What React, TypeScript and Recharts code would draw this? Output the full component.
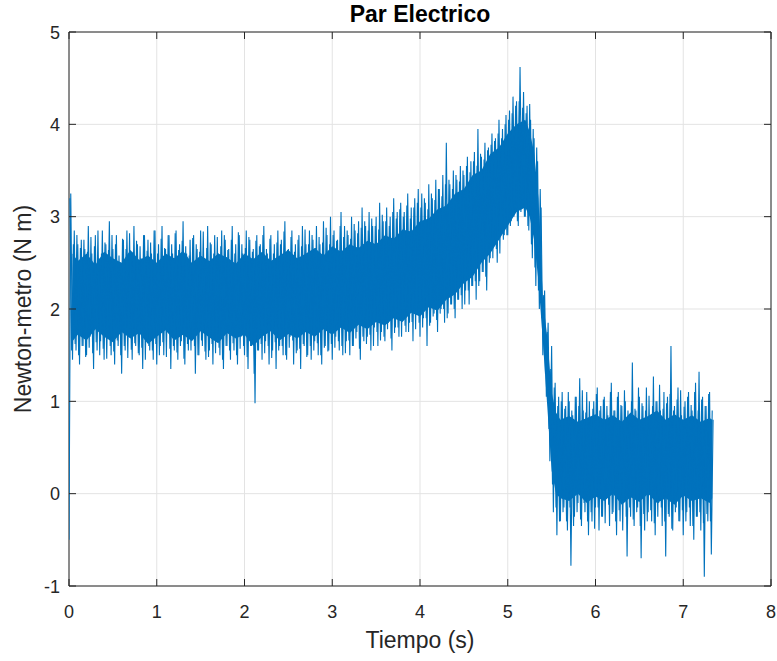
import {
  ComposedChart,
  Line,
  Area,
  XAxis,
  YAxis,
  CartesianGrid,
  ReferenceArea,
} from 'recharts'

// sample spacing of the recorded torque (s); the second trace sits halfway between
const DT = 0.02

const X_TICKS = [0, 1, 2, 3, 4, 5, 6, 7, 8]
const Y_TICKS = [-1, 0, 1, 2, 3, 4, 5]

// electric torque (N m) at t = 0, 0.02, 0.04 ... one row per 0.2 s
const PAR = [
  -0.5, 3.25, 1.45, 2.85, 1.55, 2.7, 1.4, 2.75, 1.6, 2.65,
  1.5, 2.9, 1.7, 2.6, 1.35, 2.8, 1.55, 2.55, 1.65, 2.85,
  1.45, 2.7, 1.75, 2.95, 1.5, 2.65, 1.4, 2.8, 1.6, 2.5,
  1.3, 2.75, 1.55, 2.85, 1.7, 2.6, 1.45, 2.9, 1.6, 2.7,
  1.5, 2.55, 1.35, 2.8, 1.65, 2.75, 1.55, 2.6, 1.45, 2.85,
  1.4, 2.7, 1.6, 2.9, 1.5, 2.65, 1.75, 2.8, 1.35, 2.6,
  1.55, 2.85, 1.45, 2.7, 1.65, 2.95, 1.4, 2.6, 1.55, 2.75,
  1.7, 2.8, 1.3, 2.65, 1.5, 2.85, 1.6, 2.55, 1.45, 2.9,
  1.55, 2.7, 1.4, 2.8, 1.65, 2.6, 1.5, 2.85, 1.35, 2.75,
  1.6, 2.65, 1.45, 2.9, 1.55, 2.7, 1.4, 2.8, 1.7, 2.6,
  1.5, 2.85, 1.35, 2.75, 1.6, 2.65, 0.98, 2.8, 1.55, 2.7,
  1.45, 2.9, 1.65, 2.6, 1.4, 2.8, 1.55, 2.7, 1.35, 2.85,
  1.6, 2.75, 1.5, 2.95, 1.45, 2.65, 1.7, 2.85, 1.4, 2.7,
  1.55, 2.8, 1.35, 2.9, 1.6, 2.7, 1.5, 2.85, 1.45, 2.75,
  1.65, 2.9, 1.5, 2.7, 1.4, 2.95, 1.6, 2.8, 1.55, 3.0,
  1.45, 2.85, 1.7, 2.75, 1.55, 3.05, 1.5, 2.9, 1.65, 2.8,
  1.5, 3.0, 1.6, 2.85, 1.75, 2.95, 1.45, 3.1, 1.65, 2.9,
  1.7, 3.05, 1.55, 2.9, 1.8, 3.0, 1.6, 3.15, 1.75, 2.95,
  1.65, 3.1, 1.85, 3.0, 1.55, 3.2, 1.8, 3.05, 1.7, 3.15,
  1.9, 3.05, 1.75, 3.25, 1.85, 3.1, 1.65, 3.2, 1.95, 3.3,
  1.7, 3.25, 1.9, 3.15, 1.6, 3.35, 1.85, 3.2, 1.95, 3.4,
  1.75, 3.3, 2.0, 3.45, 1.85, 3.8, 1.95, 3.35, 2.05, 3.5,
  1.9, 3.4, 2.1, 3.55, 2.0, 3.45, 2.2, 3.65, 2.05, 3.6,
  2.25, 3.7, 2.1, 3.95, 2.3, 3.65, 2.4, 3.8, 2.2, 3.75,
  2.55, 3.9, 2.75, 3.85, 2.5, 4.05, 2.85, 3.95, 2.8, 4.1,
  2.8, 4.15, 2.95, 4.3, 3.05, 4.25, 2.9, 4.62, 3.1, 4.35,
  3.0, 4.2, 2.85, 4.05, 2.55, 3.85, 2.25, 3.6, 2.0, 3.1,
  1.5, 2.2, 1.05, 1.85, 0.35, 1.6, -0.2, 1.2, -0.45, 1.05,
  -0.3, 1.1, -0.15, 0.95, -0.4, 1.0, -0.78, 0.85, -0.25, 1.05,
  -0.1, 1.25, -0.35, 0.9, -0.2, 1.1, -0.45, 0.8, -0.3, 1.0,
  -0.15, 1.15, -0.4, 0.95, -0.25, 1.05, -0.05, 0.85, -0.35, 1.2,
  -0.2, 0.9, -0.45, 1.1, -0.3, 0.95, -0.1, 1.0, -0.68, 0.85,
  -0.25, 1.42, -0.35, 0.9, -0.15, 1.05, -0.7, 0.95, -0.4, 1.15,
  -0.2, 0.85, -0.3, 1.27, -0.45, 1.0, -0.1, 0.9, -0.35, 1.1,
  -0.68, 1.05, -0.25, 1.6, -0.4, 0.95, -0.15, 1.15, -0.3, 0.85,
  -0.45, 1.0, -0.2, 1.1, -0.35, 0.9, -0.5, 1.2, -0.25, 1.32,
  -0.4, 1.05, -0.9, 0.95, -0.3, 1.1, -0.66, 0.8,
]

// torque at the in-between samples t = 0.01, 0.03, 0.05 ...
const PAR_MID = [
  3.2, 1.55, 2.7, 1.62, 2.8, 1.5, 2.66, 1.6, 2.75, 1.48,
  2.62, 1.58, 2.78, 1.52, 2.68, 1.64, 2.85, 1.5, 2.6, 1.57,
  2.72, 1.46, 2.64, 1.6, 2.8, 1.54, 2.7, 1.66, 2.58, 1.5,
  2.76, 1.6, 2.65, 1.47, 2.82, 1.56, 2.62, 1.63, 2.74, 1.52,
  2.68, 1.58, 2.8, 1.45, 2.63, 1.6, 2.72, 1.55, 2.85, 1.62,
  2.6, 1.5, 2.76, 1.64, 2.66, 1.48, 2.8, 1.57, 2.7, 1.6,
  2.82, 1.53, 2.64, 1.6, 2.74, 1.46, 2.68, 1.62, 2.58, 1.55,
  2.77, 1.6, 2.7, 1.5, 2.62, 1.66, 2.84, 1.54, 2.66, 1.48,
  2.72, 1.62, 2.6, 1.52, 2.78, 1.58, 2.68, 1.45, 2.8, 1.6,
  2.64, 1.55, 2.75, 1.63, 2.6, 1.5, 2.83, 1.57, 2.7, 1.6,
  2.66, 1.48, 2.78, 1.6, 2.62, 1.3, 2.74, 1.55, 2.68, 1.62,
  2.8, 1.52, 2.65, 1.6, 2.76, 1.47, 2.6, 1.64, 2.72, 1.55,
  2.7, 1.6, 2.84, 1.5, 2.64, 1.58, 2.78, 1.66, 2.62, 1.52,
  2.75, 1.57, 2.68, 1.62, 2.86, 1.48, 2.7, 1.6, 2.8, 1.55,
  2.66, 1.63, 2.78, 1.5, 2.72, 1.58, 2.88, 1.54, 2.7, 1.62,
  2.8, 1.58, 2.74, 1.65, 2.9, 1.6, 2.78, 1.52, 2.85, 1.66,
  2.76, 1.6, 2.92, 1.68, 2.82, 1.57, 2.88, 1.7, 2.95, 1.62,
  2.85, 1.72, 2.98, 1.6, 2.9, 1.75, 2.86, 1.66, 3.02, 1.7,
  2.95, 1.78, 2.9, 1.68, 3.05, 1.74, 2.98, 1.8, 3.08, 1.7,
  3.0, 1.82, 3.12, 1.75, 2.98, 1.86, 3.1, 1.78, 3.15, 1.85,
  3.1, 1.8, 3.2, 1.9, 3.08, 1.82, 3.25, 1.92, 3.18, 1.88,
  3.3, 1.95, 3.22, 2.0, 3.35, 1.9, 3.4, 2.05, 3.3, 2.0,
  3.45, 2.1, 3.38, 2.15, 3.5, 2.05, 3.55, 2.2, 3.48, 2.25,
  3.6, 2.3, 3.55, 2.25, 3.68, 2.4, 3.62, 2.35, 3.72, 2.5,
  3.78, 2.55, 3.82, 2.65, 3.9, 2.6, 3.85, 2.75, 4.0, 2.8,
  4.05, 2.9, 4.12, 3.0, 4.2, 2.95, 4.25, 3.05, 4.18, 3.0,
  4.12, 2.9, 4.22, 2.7, 3.95, 2.45, 3.75, 2.2, 3.3, 1.9,
  2.15, 1.3, 1.75, 0.7, 1.35, 0.1, 1.15, -0.15, 0.95, -0.3,
  1.0, -0.2, 0.92, -0.3, 1.1, -0.15, 0.9, -0.35, 1.05, -0.2,
  0.95, -0.28, 1.12, -0.1, 0.88, -0.3, 1.0, -0.2, 0.92, -0.38,
  1.08, -0.15, 0.9, -0.25, 1.02, -0.32, 0.95, -0.12, 1.1, -0.22,
  0.9, -0.3, 1.05, -0.18, 0.96, -0.4, 1.12, -0.25, 0.9, -0.15,
  1.0, -0.28, 0.92, -0.2, 1.15, -0.35, 0.98, -0.22, 0.9, -0.3,
  1.06, -0.18, 0.95, -0.32, 1.0, -0.25, 1.18, -0.15, 0.92, -0.3,
  0.98, -0.22, 1.08, -0.38, 0.9, -0.2, 1.02, -0.3, 1.12, -0.18,
  0.94, -0.3, 1.05, -0.15, 0.96, -0.35, 1.1, -0.25, 0.9, -0.2,
  1.02, -0.32, 0.95, -0.22, 1.08, -0.3, 0.9,
]

// the dense, fully inked part of the noise band
const CORE_T = [
  0.04, 0.1, 0.2, 0.3, 0.4, 0.5, 0.6, 0.7, 0.8, 0.9,
  1.0, 1.1, 1.2, 1.3, 1.4, 1.5, 1.6, 1.7, 1.8, 1.9,
  2.0, 2.1, 2.2, 2.3, 2.4, 2.5, 2.6, 2.7, 2.8, 2.9,
  3.0, 3.1, 3.2, 3.3, 3.4, 3.5, 3.6, 3.7, 3.8, 3.9,
  4.0, 4.1, 4.2, 4.3, 4.4, 4.5, 4.6, 4.7, 4.8, 4.9,
  5.0, 5.1, 5.2, 5.25, 5.3, 5.35, 5.4, 5.45, 5.5, 5.55,
  5.6, 5.7, 5.8, 5.9, 6.0, 6.1, 6.2, 6.3, 6.4, 6.5,
  6.6, 6.7, 6.8, 6.9, 7.0, 7.1, 7.2, 7.3, 7.33,
]
const CORE_LOW = [
  1.65, 1.72, 1.66, 1.78, 1.7, 1.64, 1.75, 1.68, 1.74, 1.62,
  1.7, 1.77, 1.66, 1.72, 1.65, 1.76, 1.69, 1.63, 1.74, 1.68,
  1.72, 1.6, 1.7, 1.76, 1.66, 1.73, 1.68, 1.75, 1.7, 1.78,
  1.72, 1.8, 1.74, 1.83, 1.78, 1.86, 1.82, 1.9, 1.86, 1.96,
  1.92, 2.02, 1.98, 2.1, 2.16, 2.28, 2.35, 2.5, 2.6, 2.75,
  2.9, 3.05, 3.1, 3.0, 2.75, 2.3, 1.65, 0.95, 0.25, 0.0,
  -0.05, -0.08, 0.0, -0.1, -0.03, -0.08, 0.0, -0.12, -0.04, -0.09,
  0.0, -0.1, -0.05, -0.12, -0.02, -0.08, -0.05, -0.1, -0.05,
]
const CORE_HIGH = [
  2.6, 2.52, 2.6, 2.48, 2.62, 2.55, 2.5, 2.64, 2.53, 2.58,
  2.5, 2.6, 2.55, 2.63, 2.5, 2.58, 2.52, 2.6, 2.56, 2.49,
  2.6, 2.54, 2.62, 2.52, 2.58, 2.64, 2.55, 2.6, 2.66, 2.58,
  2.68, 2.62, 2.7, 2.66, 2.74, 2.7, 2.8, 2.76, 2.86, 2.84,
  2.95, 2.98, 3.08, 3.12, 3.25, 3.3, 3.45, 3.5, 3.68, 3.75,
  3.9, 4.0, 4.05, 3.92, 3.7, 3.2, 2.1, 1.7, 1.1, 0.88,
  0.8, 0.84, 0.78, 0.82, 0.86, 0.8, 0.85, 0.78, 0.88, 0.8,
  0.84, 0.9, 0.8, 0.86, 0.8, 0.85, 0.78, 0.82, 0.8,
]

const W = 777
const H = 661
const PLOT = { left: 69, right: 771, top: 32, bottom: 586 }
const TICK_LEN = 7
const AXIS_COLOR = '#262626'
const LINE_COLOR = '#0072BD'
const FONT = 'Liberation Sans, Arial, Helvetica, sans-serif'

const data = PAR.map((v, i) => ({ t: +(i * DT).toFixed(2), par: v }))
const midData = PAR_MID.map((v, i) => ({ t: +(DT / 2 + i * DT).toFixed(2), par: v }))
const core = CORE_T.map((t, i) => ({ t, band: [CORE_LOW[i], CORE_HIGH[i]] }))

function XTick({ x, payload }: { x?: number; payload?: { value: number } }) {
  return (
    <g>
      <line x1={x} x2={x} y1={PLOT.bottom} y2={PLOT.bottom - TICK_LEN} stroke={AXIS_COLOR} />
      <line x1={x} x2={x} y1={PLOT.top} y2={PLOT.top + TICK_LEN} stroke={AXIS_COLOR} />
      <text x={x} y={PLOT.bottom + 32} textAnchor="middle" fontSize={18} fill={AXIS_COLOR} fontFamily={FONT}>
        {payload?.value}
      </text>
    </g>
  )
}

function YTick({ y, payload }: { y?: number; payload?: { value: number } }) {
  return (
    <g>
      <line x1={PLOT.left} x2={PLOT.left + TICK_LEN} y1={y} y2={y} stroke={AXIS_COLOR} />
      <line x1={PLOT.right} x2={PLOT.right - TICK_LEN} y1={y} y2={y} stroke={AXIS_COLOR} />
      <text x={PLOT.left - 9} y={(y ?? 0) + 6.5} textAnchor="end" fontSize={18} fill={AXIS_COLOR} fontFamily={FONT}>
        {payload?.value}
      </text>
    </g>
  )
}

export default function App() {
  return (
    <div style={{ position: 'absolute', left: 0, top: 0, width: W, height: H, background: '#fff', fontFamily: FONT }}>
      <ComposedChart
        width={W}
        height={H}
        data={data}
        margin={{ top: PLOT.top, right: W - PLOT.right, left: 9, bottom: 35 }}
      >
        <CartesianGrid stroke="#e3e3e3" horizontal vertical />
        <XAxis
          dataKey="t"
          type="number"
          domain={[0, 8]}
          ticks={X_TICKS}
          allowDataOverflow
          height={40}
          axisLine={false}
          tickLine={false}
          tick={<XTick />}
          interval={0}
        />
        <YAxis
          type="number"
          domain={[-1, 5]}
          ticks={Y_TICKS}
          allowDataOverflow
          width={60}
          axisLine={false}
          tickLine={false}
          tick={<YTick />}
          interval={0}
        />
        <Area
          data={core}
          type="linear"
          dataKey="band"
          stroke="none"
          fill={LINE_COLOR}
          fillOpacity={1}
          isAnimationActive={false}
        />
        <Line
          data={midData}
          type="linear"
          dataKey="par"
          stroke={LINE_COLOR}
          strokeWidth={1.1}
          dot={false}
          isAnimationActive={false}
        />
        <Line
          type="linear"
          dataKey="par"
          stroke={LINE_COLOR}
          strokeWidth={1.1}
          dot={false}
          isAnimationActive={false}
        />
        <ReferenceArea x1={0} x2={8} y1={-1} y2={5} fill="none" stroke={AXIS_COLOR} strokeWidth={1} ifOverflow="visible" />
      </ComposedChart>
      <div
        style={{
          position: 'absolute',
          left: 0,
          width: PLOT.left + PLOT.right,
          top: 1,
          textAlign: 'center',
          fontWeight: 'bold',
          fontSize: 23,
          color: '#000',
          lineHeight: '26px',
        }}
      >
        Par Electrico
      </div>
      <div
        style={{
          position: 'absolute',
          left: 0,
          width: PLOT.left + PLOT.right,
          top: 626,
          textAlign: 'center',
          fontSize: 23,
          color: AXIS_COLOR,
          lineHeight: '28px',
        }}
      >
        Tiempo (s)
      </div>
      <div
        style={{
          position: 'absolute',
          left: 23,
          top: (PLOT.top + PLOT.bottom) / 2,
          transform: 'translate(-50%, -50%) rotate(-90deg)',
          whiteSpace: 'nowrap',
          fontSize: 23,
          color: AXIS_COLOR,
          lineHeight: '28px',
        }}
      >
        Newton-metro (N m)
      </div>
    </div>
  )
}
